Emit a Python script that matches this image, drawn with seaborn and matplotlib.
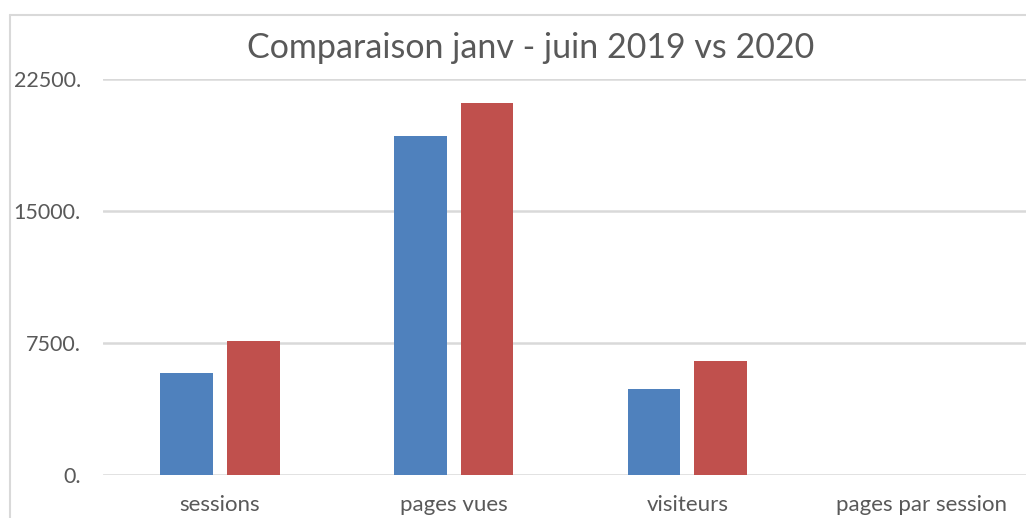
import numpy as np
import pandas as pd
import matplotlib.pyplot as plt
import seaborn as sns
from matplotlib.lines import Line2D

# ================================
# DATA
# ================================
categories = ["sessions", "pages vues", "visiteurs", "pages par session"]
years = ["2019", "2020"]
values_2019 = [5830, 19280, 4890, 3.3]
values_2020 = [7630, 21170, 6480, 2.8]
y_ticks = [0, 7500, 15000, 22500]
y_tick_labels = ["0.", "7500.", "15000.", "22500."]

df = pd.DataFrame({
    "categorie": categories * 2,
    "annee": [years[0]] * len(categories) + [years[1]] * len(categories),
    "valeur": values_2019 + values_2020,
})

# ================================
# STYLE
# ================================
sns.set_style("white")
plt.rcParams["font.family"] = ["Lato", "DejaVu Sans"]
text_color = "#595959"
grid_color = "#D9D9D9"

fig = plt.figure(figsize=(10.26, 5.18), dpi=100)
ax = fig.add_axes([0.1004, 0.0824, 0.9113, 0.7645])

sns.barplot(data=df, x="categorie", y="valeur", hue="annee",
            palette=["#4F81BD", "#C0504D"], saturation=1, width=0.57, gap=0.21,
            errorbar=None, linewidth=0, legend=False, ax=ax)

ax.set_xlim(-0.5, 3.5)
ax.set_ylim(0, 22500)
ax.set_yticks(y_ticks, y_tick_labels)
ax.set_xlabel("")
ax.set_ylabel("")
ax.tick_params(axis="y", length=0, pad=16, labelsize=15.5, colors=text_color)
ax.tick_params(axis="x", length=0, pad=14, labelsize=16, colors=text_color)
ax.yaxis.grid(True, color=grid_color, linewidth=1.8)
ax.set_axisbelow(True)
sns.despine(ax=ax, left=True, bottom=True)

# chart area border (cropped Excel chart)
fig.add_artist(Line2D([10 / 1026, 10 / 1026], [1 - 15 / 518, 0], color=grid_color, lw=1.5))
fig.add_artist(Line2D([10 / 1026, 1], [1 - 15 / 518, 1 - 15 / 518], color=grid_color, lw=1.5))

fig.text(0.5175, 1 - 58 / 518, "Comparaison janv - juin 2019 vs 2020",
         ha="center", va="baseline", fontsize=24.5, color=text_color)

fig.savefig("out.png", dpi=100)
